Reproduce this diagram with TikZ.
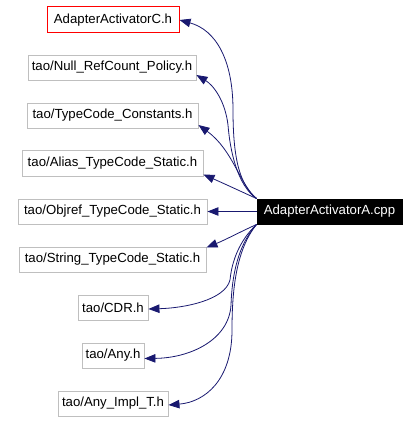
\documentclass[tikz,border=0pt]{standalone}
\usepackage{fontspec}
\setmainfont{Liberation Sans}
\usetikzlibrary{arrows.meta}
\definecolor{edgecol}{HTML}{191970}
\definecolor{boxgray}{HTML}{BFBFBF}
\definecolor{boxred}{RGB}{255,0,0}
\begin{document}
\begin{tikzpicture}[x=1pt,y=-1pt,
  file/.style={draw=boxgray,line width=0.9pt,rectangle,inner sep=0pt,minimum height=25pt,font=\fontsize{13.2}{15}\selectfont},
  edge/.style={draw=edgecol,line width=0.8pt,-{Triangle[length=11pt,width=8.5pt]}}]
\useasboundingbox (0,0) rectangle (419,422);
\node[rectangle,draw=boxred,line width=1pt,inner sep=0pt,minimum height=26pt,minimum width=132pt,font=\fontsize{13.2}{15}\selectfont] (C) at (113,20) {AdapterActivatorC.h};
\node[file,minimum width=168pt] (Null) at (112,67.5) {tao/Null\_RefCount\_Policy.h};
\node[file,minimum width=171pt] (TCC) at (112.5,115.5) {tao/TypeCode\_Constants.h};
\node[file,minimum width=181pt,minimum height=26pt] (Alias) at (112.5,163) {tao/Alias\_TypeCode\_Static.h};
\node[file,minimum width=189pt] (Objref) at (112.5,211.5) {tao/Objref\_TypeCode\_Static.h};
\node[file,minimum width=187pt] (String) at (112.5,259.5) {tao/String\_TypeCode\_Static.h};
\node[file,minimum width=70pt] (CDR) at (113,307.5) {tao/CDR.h};
\node[file,minimum width=62pt] (Any) at (113,355.5) {tao/Any.h};
\node[file,minimum width=110pt] (AnyImpl) at (113,403.5) {tao/Any\_Impl\_T.h};
\node[file,draw=black,fill=black,text=white,minimum width=145pt] (A) at (329.5,211.5) {AdapterActivatorA.cpp};
\draw[edge] (A.north west) .. controls (240,185) and (233,160) .. (233,110) .. controls (233,60) and (216,30) .. (C.east);
\draw[edge] (A.north west) .. controls (237,185) and (230,150) .. (228,125) .. controls (225,100) and (213,85) .. ([yshift=-7.5pt]Null.east);
\draw[edge] (A.north west) .. controls (240,185) and (233,150) .. ([yshift=-9.5pt]TCC.east);
\draw[edge] (A.north west) .. controls (240,191) and (225,184) .. ([yshift=-11.5pt]Alias.east);
\draw[edge] (A.west) -- (Objref.east);
\draw[edge] (A.south west) .. controls (240,232) and (225,240) .. ([yshift=12pt]String.east);
\draw[edge] (A.south west) .. controls (240,240) and (232,260) .. (230,280) .. controls (225,300) and (185,308) .. ([yshift=-1.5pt]CDR.east);
\draw[edge] (A.south west) .. controls (238,245) and (232,275) .. (231,305) .. controls (229,340) and (190,358) .. ([yshift=-3pt]Any.east);
\draw[edge] (A.south west) .. controls (236,250) and (232,290) .. (232,330) .. controls (232,380) and (205,402) .. ([yshift=-1.5pt]AnyImpl.east);
\end{tikzpicture}
\end{document}
